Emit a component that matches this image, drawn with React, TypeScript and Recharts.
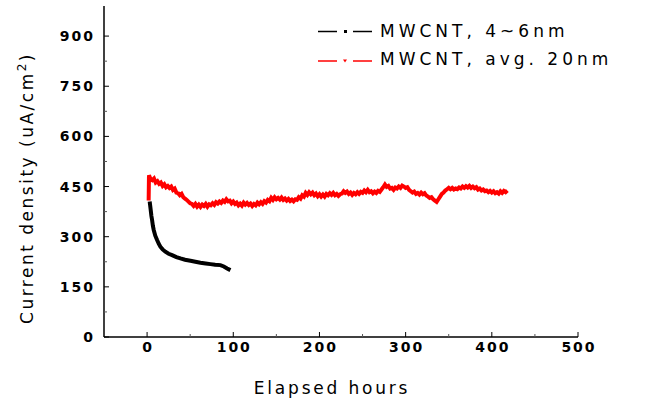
import React from 'react';
import { LineChart, Line, XAxis, YAxis } from 'recharts';

const xTicks = [0, 50, 100, 150, 200, 250, 300, 350, 400, 450, 500];
const yTicks = [0, 75, 150, 225, 300, 375, 450, 525, 600, 675, 750, 825, 900];
const seriesNames = ['MWCNT, 4~6nm', 'MWCNT, avg. 20nm'];
const xTitle = 'Elapsed hours';
const yTitle = 'Current density (uA/cm';

// [elapsed hours, current density uA/cm2]
const thinTubes: [number, number][] = [
  [3, 405], [3.5, 395], [4.2, 380], [5, 362], [5.8, 350], [6.7, 333], [7.7, 320],
  [9.5, 303], [11.6, 290], [13.5, 279], [15.4, 270], [18, 262], [21.2, 255], [25, 249],
  [29, 245], [34, 239], [38.7, 235], [44, 231], [50.3, 228], [56, 225], [61.9, 222],
  [68, 220], [73.5, 218], [79, 216], [85.1, 215], [89, 211], [92.9, 205], [96.7, 200],
];

const thickTubes: [number, number][] = [
  [1.8, 408], [2.2, 484], [4, 472], [6, 469], [8, 474], [10, 462], [12, 466], [14, 458],
  [16, 462], [18, 452], [20, 457], [22, 448], [24, 452], [26, 446], [28, 450], [30, 440],
  [32, 444], [34, 432], [36, 430], [38, 424], [40, 428], [42, 418], [44, 414], [46, 410],
  [48, 405], [50, 400], [52, 398], [54, 392], [56, 398], [58, 390], [60, 396], [62, 389],
  [64, 396], [66, 392], [68, 398], [70, 390], [72, 397], [74, 394], [76, 400], [78, 395],
  [80, 403], [82, 399], [84, 405], [86, 401], [88, 408], [90, 404], [92, 412], [94, 406],
  [96, 408], [98, 400], [100, 405], [102, 398], [104, 402], [106, 394], [108, 399], [110, 393],
  [112, 402], [114, 396], [116, 401], [118, 395], [120, 399], [122, 392], [124, 398], [126, 394],
  [128, 402], [130, 397], [132, 403], [134, 398], [136, 406], [138, 402], [140, 410], [142, 406],
  [144, 416], [146, 410], [148, 418], [150, 412], [152, 416], [154, 411], [156, 417], [158, 410],
  [160, 414], [162, 408], [164, 413], [166, 407], [168, 411], [170, 406], [172, 412], [174, 410],
  [176, 418], [178, 414], [180, 424], [182, 420], [184, 431], [186, 425], [188, 433], [190, 427],
  [192, 432], [194, 424], [196, 429], [198, 421], [200, 427], [202, 420], [204, 426], [206, 420],
  [208, 428], [210, 424], [212, 430], [214, 425], [216, 431], [218, 424], [220, 428], [222, 422],
  [224, 427], [226, 429], [228, 436], [230, 431], [232, 435], [234, 428], [236, 432], [238, 425],
  [240, 431], [242, 427], [244, 433], [246, 428], [248, 434], [250, 431], [252, 438], [254, 433],
  [256, 440], [258, 433], [260, 436], [262, 430], [264, 435], [266, 431], [268, 437], [270, 434],
  [272, 441], [274, 448], [276, 456], [278, 449], [280, 452], [282, 444], [284, 446], [286, 440],
  [288, 447], [290, 444], [292, 450], [294, 446], [296, 453], [298, 450], [300, 446], [302, 448],
  [304, 440], [306, 436], [308, 432], [310, 435], [312, 428], [314, 431], [316, 426], [318, 432],
  [320, 427], [322, 430], [324, 423], [326, 420], [328, 416], [330, 418], [332, 412], [334, 408],
  [336, 404], [338, 412], [340, 420], [342, 428], [344, 432], [346, 438], [348, 442], [350, 446],
  [352, 442], [354, 446], [356, 441], [358, 444], [360, 442], [362, 447], [364, 444], [366, 450],
  [368, 446], [370, 451], [372, 447], [374, 452], [376, 446], [378, 450], [380, 445], [382, 448],
  [384, 441], [386, 444], [388, 438], [390, 441], [392, 436], [394, 438], [396, 433], [398, 437],
  [400, 432], [402, 436], [404, 430], [406, 433], [408, 429], [410, 436], [412, 431], [414, 437],
  [416, 433], [418, 438],
];

const thinData = thinTubes.map(([h, j]) => ({ h, j }));
const thickData = thickTubes.map(([h, j]) => ({ h, j }));

const FONT = '"DejaVu Sans", Verdana, sans-serif';

function XTick(props: any) {
  const { x, y, payload } = props;
  const v = payload.value as number;
  const major = v % 100 === 0;
  return (
    <g>
      <line x1={x} x2={x} y1={y} y2={y - (major ? 5 : 3)} stroke={major ? '#000' : '#555'} strokeWidth={1} />
      {major && (
        <text x={x + 1} y={y + 15} textAnchor="middle" fontFamily={FONT} fontWeight="bold"
          fontSize={14} letterSpacing={2} fill="#000">{v}</text>
      )}
    </g>
  );
}

function YTick(props: any) {
  const { x, y, payload } = props;
  const v = payload.value as number;
  const major = v % 150 === 0;
  return (
    <g>
      <line x1={x} x2={x + (major ? 5 : 3)} y1={y} y2={y} stroke={major ? '#000' : '#555'} strokeWidth={1} />
      {major && (
        <text x={x - 9} y={y + 5} textAnchor="end" fontFamily={FONT} fontWeight="bold"
          fontSize={14} letterSpacing={2} fill="#000">{v}</text>
      )}
    </g>
  );
}

export default function App() {
  return (
    <div style={{ position: 'absolute', left: 0, top: 0, width: 650, height: 403, background: '#fff' }}>
      <LineChart width={650} height={403} margin={{ top: 6, right: 72, bottom: 6, left: 0 }}>
        <XAxis type="number" dataKey="h" domain={[-50, 500]} ticks={xTicks} tick={<XTick />}
          tickLine={false} tickSize={0} tickMargin={0} interval={0} height={60} allowDataOverflow
          axisLine={{ stroke: '#000', strokeWidth: 1.5 }} />
        <YAxis type="number" domain={[0, 990]} ticks={yTicks} tick={<YTick />}
          tickLine={false} tickSize={0} tickMargin={0} interval={0} width={104} allowDataOverflow
          axisLine={{ stroke: '#000', strokeWidth: 1.5 }} />
        <Line data={thinData} dataKey="j" name={seriesNames[0]} type="linear" stroke="#000"
          strokeWidth={4} dot={false} isAnimationActive={false} />
        <Line data={thickData} dataKey="j" name={seriesNames[1]} type="linear" stroke="#ff0000"
          strokeWidth={4} dot={false} isAnimationActive={false} />
      </LineChart>
      <svg width={650} height={403} style={{ position: 'absolute', left: 0, top: 0, pointerEvents: 'none' }}>
        <g>
          <line x1={318} x2={337} y1={31.5} y2={31.5} stroke="#000" strokeWidth={1.5} />
          <rect x={344} y={30} width={3} height={3} fill="#000" />
          <line x1={353} x2={372} y1={31.5} y2={31.5} stroke="#000" strokeWidth={1.5} />
          <text x={380} y={37} fontFamily={FONT} fontSize={17} letterSpacing={4} fill="#000">{seriesNames[0]}</text>
        </g>
        <g>
          <line x1={318} x2={337} y1={61} y2={61} stroke="#ff0000" strokeWidth={1.5} />
          <polygon points="343,59.5 347,59.5 345,62.5" fill="#ff0000" />
          <line x1={353} x2={372} y1={61} y2={61} stroke="#ff0000" strokeWidth={1.5} />
          <text x={380} y={65} fontFamily={FONT} fontSize={17} letterSpacing={4} fill="#000">{seriesNames[1]}</text>
        </g>
        <text x={332} y={394} textAnchor="middle" fontFamily={FONT} fontSize={17} letterSpacing={2.8} fill="#000">{xTitle}</text>
        <text x={33} y={188} textAnchor="middle" transform="rotate(-90 33 188)" fontFamily={FONT}
          fontSize={17} letterSpacing={2.5} fill="#000">
          {yTitle}
          <tspan dy={-7} fontSize={12}>2</tspan>
          <tspan dy={7}>)</tspan>
        </text>
      </svg>
    </div>
  );
}
